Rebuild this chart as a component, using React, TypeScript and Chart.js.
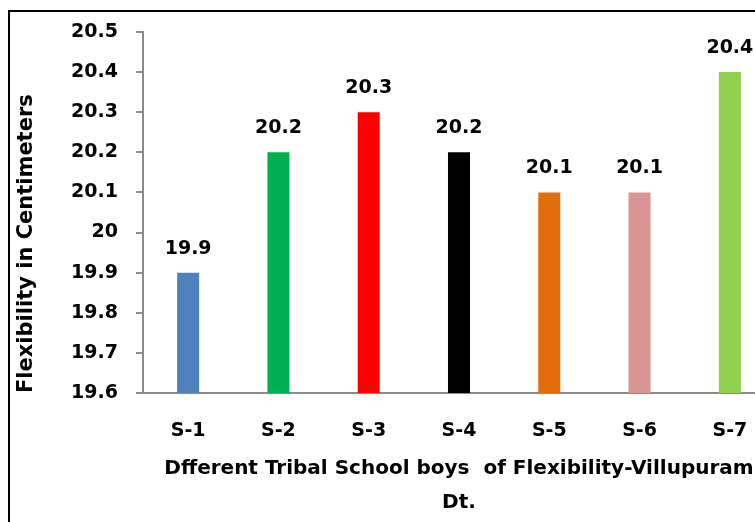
import React, { useEffect, useRef } from "react";
import { Chart, registerables } from "chart.js";

Chart.register(...registerables);

const categories = ["S-1", "S-2", "S-3", "S-4", "S-5", "S-6", "S-7"];
const values = [19.9, 20.2, 20.3, 20.2, 20.1, 20.1, 20.4];
const barColors = ["#4F81BD", "#00B050", "#FF0000", "#000000", "#E46C0A", "#D99594", "#92D050"];
const yTitle = "Flexibility in Centimeters";
const xTitle = ["Dfferent Tribal School boys  of Flexibility-Villupuram", "Dt."];
const yMin = 19.6;
const yMax = 20.5;
const yStep = 0.1;

const FONT = "'DejaVu Sans', sans-serif";

const valueLabels = {
  id: "valueLabels",
  afterDatasetsDraw(chart: any) {
    const ctx = chart.ctx;
    const meta = chart.getDatasetMeta(0);
    ctx.save();
    ctx.font = `bold 19px ${FONT}`;
    ctx.fillStyle = "#000";
    ctx.textAlign = "center";
    ctx.textBaseline = "alphabetic";
    meta.data.forEach((bar: any, i: number) => {
      ctx.fillText(String(values[i]), bar.x, bar.y - 19);
    });
    ctx.restore();
  },
};

export default function App() {
  const ref = useRef<HTMLCanvasElement | null>(null);

  useEffect(() => {
    if (!ref.current) return;
    const chart = new Chart(ref.current, {
      type: "bar",
      data: {
        labels: categories,
        datasets: [
          {
            data: values,
            backgroundColor: barColors,
            borderWidth: 0,
            barPercentage: 1,
            categoryPercentage: 0.244,
          },
        ],
      },
      options: {
        responsive: false,
        maintainAspectRatio: false,
        animation: false,
        layout: { padding: { left: 10, top: 32, right: 25, bottom: 0 } },
        plugins: {
          legend: { display: false },
          tooltip: { enabled: false },
        },
        scales: {
          x: {
            grid: { display: false, drawTicks: false },
            border: { display: true, color: "#8c8c8c", width: 2 },
            ticks: {
              font: { family: FONT, size: 19, weight: "bold" },
              color: "#000",
              padding: 27,
            },
            title: {
              display: true,
              text: xTitle,
              color: "#000",
              font: { family: FONT, size: 20, weight: "bold", lineHeight: 1.7 },
              padding: { top: 0, bottom: 2 },
            },
            afterFit: (s: any) => {
              s.height = 129;
            },
          },
          y: {
            min: yMin,
            max: yMax,
            ticks: {
              stepSize: yStep,
              font: { family: FONT, size: 19, weight: "bold" },
              color: "#000",
              padding: 18,
              callback: (v: any) => String(Math.round(Number(v) * 10) / 10),
            },
            grid: {
              display: true,
              drawOnChartArea: false,
              drawTicks: true,
              tickLength: 7,
              color: "#8c8c8c",
              lineWidth: 2,
            },
            border: { display: true, color: "#8c8c8c", width: 2 },
            title: {
              display: true,
              text: yTitle,
              align: "start",
              color: "#000",
              font: { family: FONT, size: 21, weight: "bold", lineHeight: 1.2 },
              padding: { top: 4, bottom: 0 },
            },
            afterFit: (s: any) => {
              s.width = 133;
            },
          },
        },
      } as any,
      plugins: [valueLabels],
    });
    return () => chart.destroy();
  }, []);

  return (
    <div
      style={{
        position: "fixed",
        left: 0,
        top: 0,
        width: 755,
        height: 522,
        overflow: "hidden",
        background: "#fff",
      }}
    >
      <div
        style={{
          position: "absolute",
          left: 8,
          top: 10,
          width: 900,
          height: 600,
          border: "2px solid #000",
          boxSizing: "border-box",
        }}
      />
      <canvas
        ref={ref}
        width={800}
        height={522}
        style={{ position: "absolute", left: 0, top: 0 }}
      />
    </div>
  );
}
